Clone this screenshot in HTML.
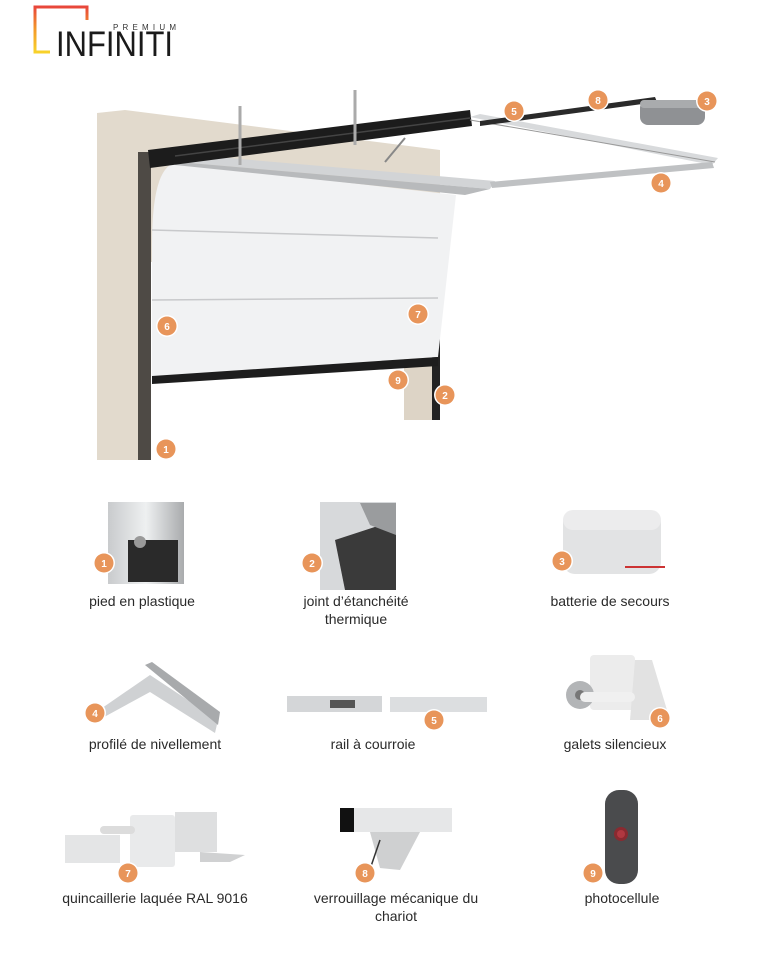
<!DOCTYPE html>
<html><head><meta charset="utf-8"><style>
html,body{margin:0;padding:0;background:#fff;width:768px;height:978px;overflow:hidden}
svg{display:block}
.l{font-family:"Liberation Sans Narrow","Liberation Sans",sans-serif;font-size:14px;fill:#2a2a2a;text-anchor:middle}
.b{font-family:"Liberation Sans",sans-serif;font-size:10px;font-weight:bold;fill:#fff;text-anchor:middle}
</style></head><body>
<svg width="768" height="978" viewBox="0 0 768 978" xmlns="http://www.w3.org/2000/svg">
<defs>
<linearGradient id="lg" x1="0" y1="0" x2="0" y2="1"><stop offset="0" stop-color="#e8463a"/><stop offset="0.5" stop-color="#f39a2a"/><stop offset="1" stop-color="#f8d22a"/></linearGradient>
<linearGradient id="met" x1="0" y1="0" x2="1" y2="0"><stop offset="0" stop-color="#c9cbcd"/><stop offset="0.5" stop-color="#eef0f1"/><stop offset="1" stop-color="#a9abad"/></linearGradient>
<g id="badge"><circle r="11" fill="#fff"/><circle r="9.5" fill="#e8955a"/></g>
</defs>
<!-- logo -->
<path d="M87 20 V7 H35 V52 H50" fill="none" stroke="url(#lg)" stroke-width="3"/>
<text x="56" y="56" font-family="Liberation Sans Narrow,Liberation Sans,sans-serif" font-size="35" fill="#1a1a1a" textLength="117" lengthAdjust="spacingAndGlyphs">INFINITI</text>
<text x="113" y="30" font-family="Liberation Sans,sans-serif" font-size="8" fill="#333" textLength="63" lengthAdjust="spacing">PREMIUM</text>

<!-- wall -->
<polygon points="97,113 125,110 440,150 440,262 150,262 150,460 97,460" fill="#e2dacd"/>
<rect x="404" y="350" width="34" height="70" fill="#ddd4c6"/>
<!-- frame -->
<rect x="138" y="152" width="13" height="308" fill="#4e4a45"/>
<rect x="432" y="280" width="8" height="140" fill="#222"/>
<!-- panel -->
<path d="M152 245 Q152 168 175 163 L456 195 L438 357 L152 376 Z" fill="#f1f2f3"/>
<path d="M152 376 L438 357 L438 366 L152 384 Z" fill="#1d1d1d"/>
<line x1="152" y1="230" x2="438" y2="238" stroke="#c8c9cb" stroke-width="1.5"/>
<line x1="152" y1="300" x2="438" y2="298" stroke="#c8c9cb" stroke-width="1.5"/>
<!-- ceiling plate -->
<polygon points="182,154 495,181 490,189 178,162" fill="#d2d4d6"/>
<polygon points="178,162 490,189 465,195 175,165" fill="#b8babc"/>
<!-- black beam -->
<polygon points="148,150 470,110 472,126 150,168" fill="#1c1c1c"/>
<line x1="175" y1="156" x2="470" y2="118" stroke="#444" stroke-width="1.5"/>
<!-- hangers -->
<line x1="240" y1="106" x2="240" y2="165" stroke="#aaa" stroke-width="3"/>
<line x1="355" y1="90" x2="355" y2="145" stroke="#aaa" stroke-width="3"/>
<line x1="385" y1="162" x2="405" y2="138" stroke="#888" stroke-width="2"/>
<!-- rails -->
<polygon points="470,117 480,114 718,158 712,165" fill="#d8dadc"/>
<line x1="470" y1="120" x2="715" y2="162" stroke="#999" stroke-width="1"/>
<polygon points="480,121 655,97 657,102 480,126" fill="#2a2a2a"/>
<polygon points="490,182 712,162 714,168 492,188" fill="#bfc1c3"/>
<rect x="640" y="100" width="65" height="25" rx="8" fill="#8f9194"/>
<rect x="640" y="100" width="65" height="8" rx="4" fill="#a9abad"/>
<!-- badges main -->
<g class="b">
<use href="#badge" x="166" y="449"/><text x="166" y="453">1</text>
<use href="#badge" x="445" y="395"/><text x="445" y="399">2</text>
<use href="#badge" x="707" y="101"/><text x="707" y="105">3</text>
<use href="#badge" x="661" y="183"/><text x="661" y="187">4</text>
<use href="#badge" x="514" y="111"/><text x="514" y="115">5</text>
<use href="#badge" x="167" y="326"/><text x="167" y="330">6</text>
<use href="#badge" x="418" y="314"/><text x="418" y="318">7</text>
<use href="#badge" x="598" y="100"/><text x="598" y="104">8</text>
<use href="#badge" x="398" y="380"/><text x="398" y="384">9</text>
</g>

<!-- row 1 images -->
<rect x="108" y="502" width="76" height="82" fill="url(#met)"/>
<rect x="128" y="540" width="50" height="42" fill="#2a2a2a"/>
<circle cx="140" cy="542" r="6" fill="#999"/>
<rect x="320" y="502" width="76" height="88" fill="#d7d9db"/>
<polygon points="335,540 396,520 396,590 345,590" fill="#3a3a3a"/>
<polygon points="360,503 396,503 396,535 370,525" fill="#9a9c9e"/>
<rect x="563" y="510" width="98" height="64" rx="12" fill="#e2e3e4"/>
<rect x="563" y="510" width="98" height="20" rx="10" fill="#ececed"/>
<line x1="625" y1="567" x2="665" y2="567" stroke="#c33" stroke-width="2"/>
<!-- row 2 -->
<polygon points="92,715 150,675 218,720 215,733 150,692 95,722" fill="#cfd1d3"/>
<polygon points="145,665 152,662 220,712 218,725" fill="#a8aaac"/>
<rect x="287" y="696" width="95" height="16" fill="#d4d6d8"/>
<rect x="390" y="697" width="97" height="15" fill="#dcdee0"/>
<rect x="330" y="700" width="25" height="8" fill="#555"/>
<rect x="590" y="655" width="45" height="55" rx="4" fill="#ececec"/>
<polygon points="635,660 652,660 670,720 630,720" fill="#e2e2e2"/>
<circle cx="580" cy="695" r="14" fill="#b3b5b7"/>
<circle cx="580" cy="695" r="5" fill="#777"/>
<rect x="580" y="692" width="55" height="10" rx="5" fill="#f0f0f0"/>
<!-- row 3 -->
<rect x="65" y="835" width="55" height="28" fill="#e4e5e6"/>
<rect x="130" y="815" width="45" height="52" rx="3" fill="#e9eaeb"/>
<rect x="175" y="812" width="42" height="40" fill="#dedfe0"/>
<polygon points="200,852 245,855 230,862 200,862" fill="#d0d1d2"/>
<rect x="100" y="826" width="35" height="8" rx="4" fill="#dcdcdc"/>
<rect x="340" y="808" width="112" height="24" fill="#e6e7e8"/>
<rect x="340" y="808" width="14" height="24" fill="#111"/>
<polygon points="370,832 420,832 400,870 380,868" fill="#cfd0d1"/>
<line x1="380" y1="840" x2="368" y2="875" stroke="#333" stroke-width="1.5"/>
<rect x="605" y="790" width="33" height="94" rx="14" fill="#4a4b4d"/>
<circle cx="621" cy="834" r="7" fill="#8a2a30"/>
<circle cx="621" cy="834" r="4" fill="#b03840"/>

<!-- badges bottom -->
<g class="b">
<use href="#badge" x="104" y="563"/><text x="104" y="567">1</text>
<use href="#badge" x="312" y="563"/><text x="312" y="567">2</text>
<use href="#badge" x="562" y="561"/><text x="562" y="565">3</text>
<use href="#badge" x="95" y="713"/><text x="95" y="717">4</text>
<use href="#badge" x="434" y="720"/><text x="434" y="724">5</text>
<use href="#badge" x="660" y="718"/><text x="660" y="722">6</text>
<use href="#badge" x="128" y="873"/><text x="128" y="877">7</text>
<use href="#badge" x="365" y="873"/><text x="365" y="877">8</text>
<use href="#badge" x="593" y="873"/><text x="593" y="877">9</text>
</g>

<!-- labels -->
<text class="l" x="142" y="606">pied en plastique</text>
<text class="l" x="356" y="606">joint d’étanchéité</text>
<text class="l" x="356" y="624">thermique</text>
<text class="l" x="610" y="606">batterie de secours</text>
<text class="l" x="155" y="749">profilé de nivellement</text>
<text class="l" x="373" y="749">rail à courroie</text>
<text class="l" x="615" y="749">galets silencieux</text>
<text class="l" x="155" y="903">quincaillerie laquée RAL 9016</text>
<text class="l" x="396" y="903">verrouillage mécanique du</text>
<text class="l" x="396" y="921">chariot</text>
<text class="l" x="622" y="903">photocellule</text>
</svg>
</body></html>
